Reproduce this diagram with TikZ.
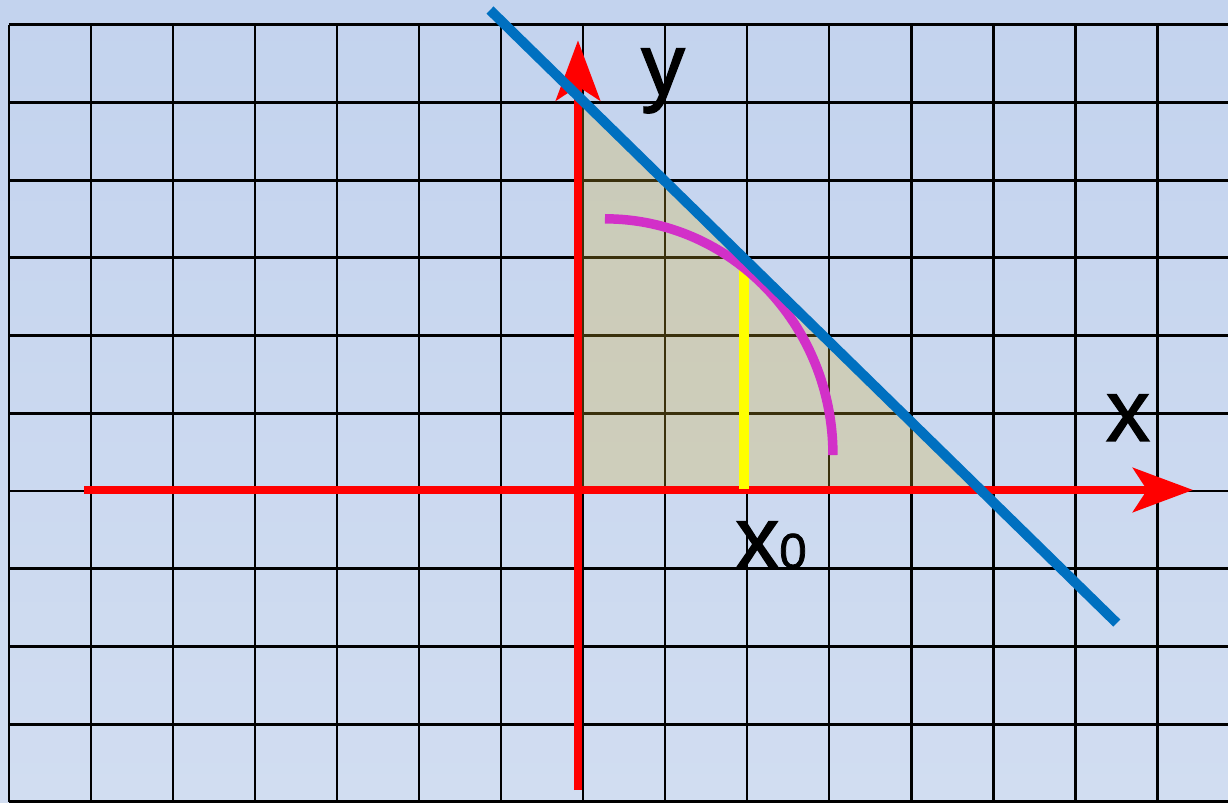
\documentclass[tikz,border=0pt]{standalone}
\usepackage{fontspec}
\setmainfont{Liberation Sans}
\newfontfamily\labelfont[FakeBold=1.5]{Liberation Sans}
\usetikzlibrary{arrows.meta}
\definecolor{bgtop}{RGB}{195,211,238}
\definecolor{bgbottom}{RGB}{209,221,241}
\definecolor{axisred}{RGB}{255,0,0}
\definecolor{lineblue}{RGB}{0,112,192}
\definecolor{arcmagenta}{RGB}{210,48,200}
\definecolor{markyellow}{RGB}{255,255,0}
\definecolor{regiontan}{RGB}{216,178,46}
\tikzset{
  gridline/.style={line width=1.7pt, color=black},
  axisline/.style={line width=5pt, color=axisred,
    -{Stealth[length=1.2cm, width=0.88cm, inset=0.28cm]}},
  tangentline/.style={line width=5.7pt, color=lineblue},
  quarterarc/.style={line width=5.4pt, color=arcmagenta},
  markline/.style={line width=5.7pt, color=markyellow},
  axlabel/.style={font=\labelfont\fontsize{50}{60}\selectfont, inner sep=0pt}
}

\begin{document}
\begin{tikzpicture}[x=1.64cm, y=1.554cm]
  % Background
  \shade[top color=bgtop, bottom color=bgbottom]
    (-7.1098,-4.0026) rectangle (7.8659,6.3192);
  \useasboundingbox (-7.1098,-4.0026) rectangle (7.8659,6.3192);

  % Grid
  \foreach \gx in {-7,...,7}
    \draw[gridline] (\gx,-4.0026) -- (\gx,6);
  \foreach \gy in {-4,...,6}
    \draw[gridline] (-7,\gy) -- (7.8659,\gy);

  % Shaded region under the line
  \fill[regiontan, opacity=0.27] (-0.06,0) -- (-0.06,5.08) -- (4.87,0) -- cycle;

  % Axes
  \coordinate (ybottom) at (-0.061,-3.85);
  \coordinate (ytip) at (-0.061,5.80);
  \coordinate (xleft) at (-6.085,0.013);
  \coordinate (xtip) at (7.44,0.013);
  \draw[axisline] (xleft) -- (xtip);
  \draw[axisline] (ybottom) -- (ytip);

  % x0 marker
  \coordinate (mfoot) at (1.963,0.03);
  \coordinate (mtop) at (1.963,2.91);
  \draw[markline] (mfoot) -- (mtop);

  % Quarter arc
  \draw[quarterarc] (0.268,3.503) arc[start angle=90, end angle=0,
    x radius=2.78, y radius=3.04];

  % Tangent line
  \coordinate (lstart) at (-1.134,6.19);
  \coordinate (lend) at (6.51,-1.70);
  \draw[tangentline] (lstart) -- (lend);

  % Labels
  \node[axlabel, anchor=base] (ylab) at (0.976,5.097) {y};
  \node[axlabel, anchor=base] (xlab) at (6.646,0.644) {x};
  \node[axlabel, anchor=base west] (xzero) at (1.854,-0.991)
    {x{\fontsize{28}{34}\selectfont 0}};
\end{tikzpicture}
\end{document}
